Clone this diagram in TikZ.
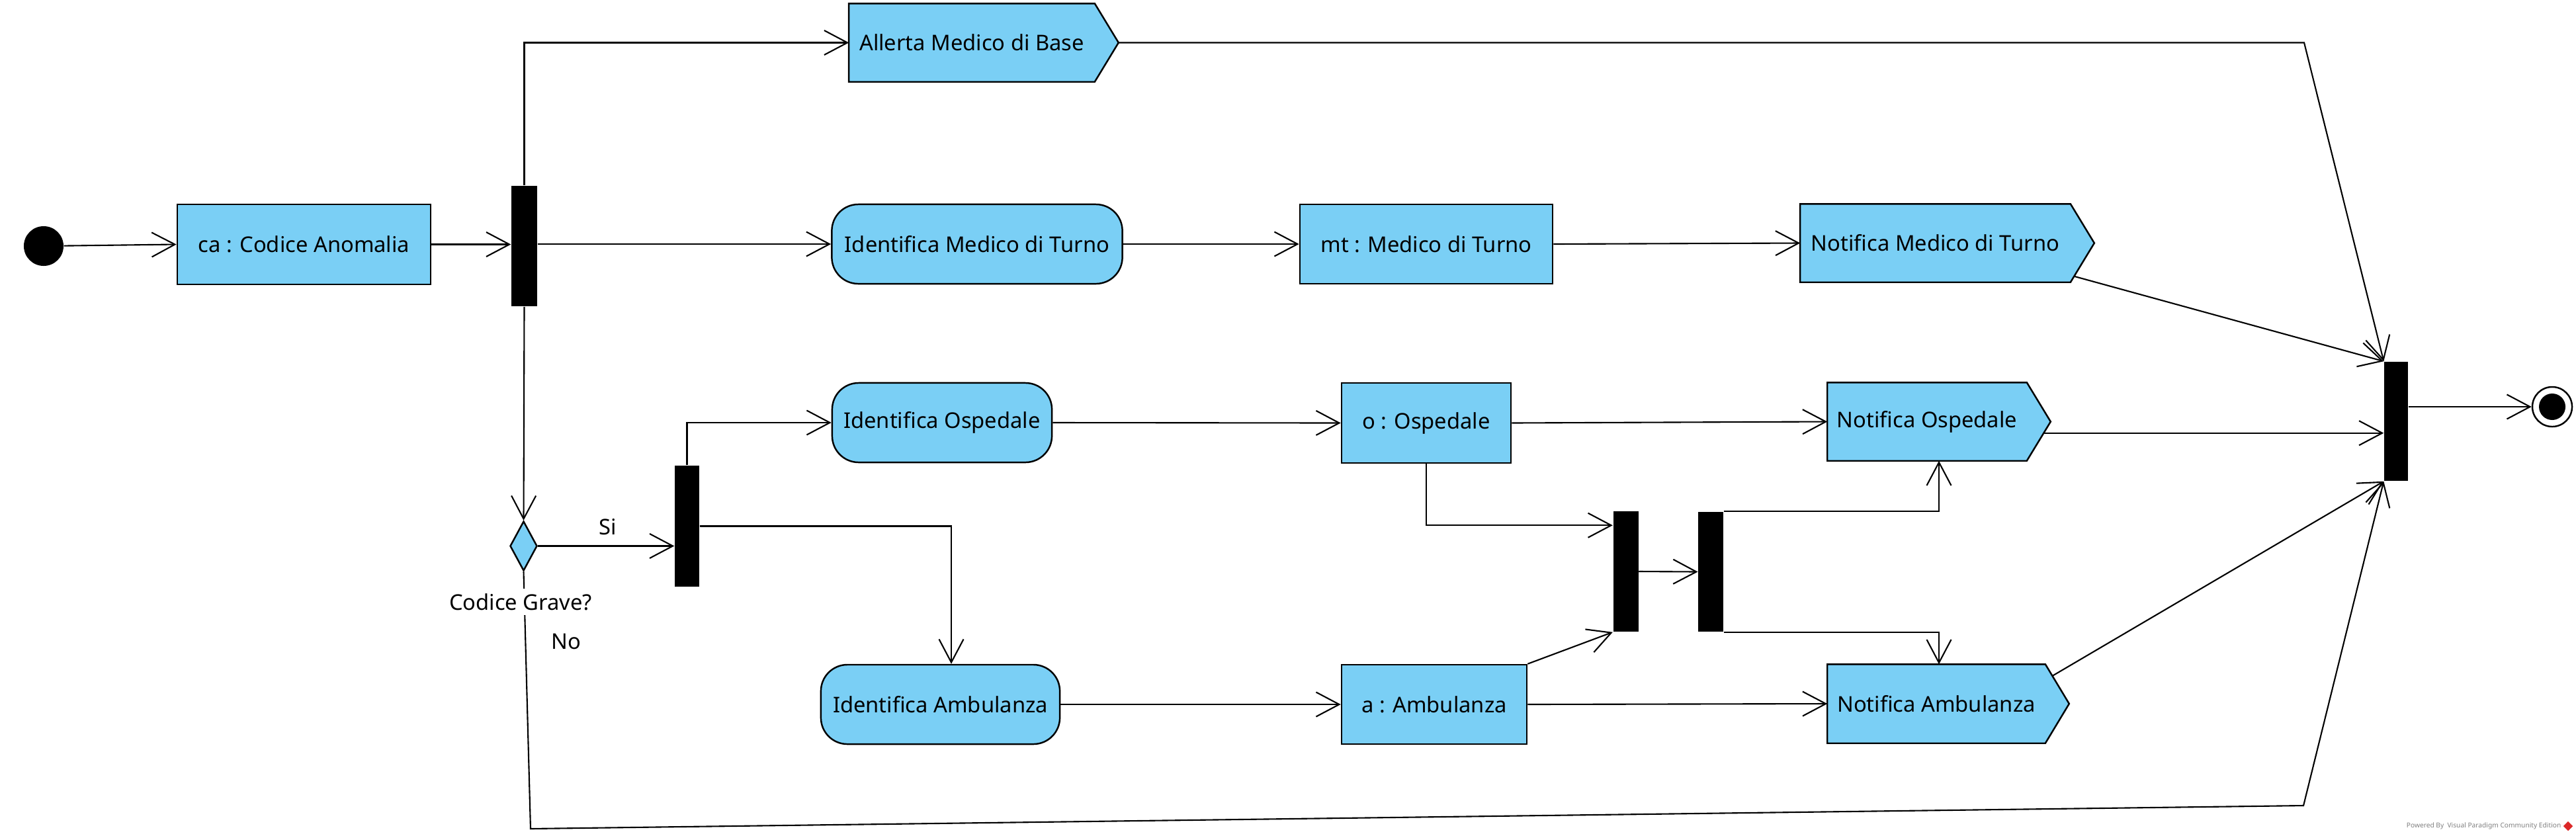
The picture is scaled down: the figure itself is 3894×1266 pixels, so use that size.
\documentclass[tikz,border=0pt]{standalone}
\usepackage{fontspec}
\setmainfont{Noto Sans}
\usetikzlibrary{arrows.meta,calc,shapes.geometric}
\pgfdeclarelayer{background}
\pgfsetlayers{background,main}
\definecolor{vpblue}{RGB}{122,207,245}
\definecolor{vpred}{RGB}{220,40,40}
\begin{document}
\begin{tikzpicture}[x=0.01cm,y=-0.01cm,
  font=\fontsize{9.3}{11}\selectfont,
  box/.style={draw, line width=0.7pt, fill=vpblue, inner sep=0, minimum height=1.2cm},
  act/.style={box, rounded corners=0.4cm},
  sigbox/.style={inner sep=0, minimum height=1.17cm},
  sigshape/.style={draw, line width=0.7pt, fill=vpblue, line join=miter},
  bar/.style={fill=black, inner sep=0, minimum width=0.38cm, minimum height=1.82cm},
  arr/.style={line width=0.6pt, -{Straight Barb[length=0.35cm, width=0.37cm]}},
]
\useasboundingbox (0,0) rectangle (3894,1266);

% nodes
\node[circle, fill=black, inner sep=0, minimum size=0.6cm] (init) at (66,372) {};
\node[box, minimum width=3.83cm, minimum height=1.21cm] (ca) at (459.5,369.5) {ca : Codice Anomalia};
\node[bar, minimum width=0.39cm] (fork1) at (792.5,372) {};
\node[sigbox, minimum width=3.70cm] (allerta) at (1469,64.5) {Allerta Medico di Base};
\node[act, minimum width=4.39cm] (idmt) at (1477,369) {Identifica Medico di Turno};
\node[box, minimum width=3.82cm] (mt) at (2156,369) {mt : Medico di Turno};
\node[sigbox, minimum width=4.07cm] (nmt) at (2925.5,367.5) {Notifica Medico di Turno};
\node[diamond, draw, fill=vpblue, line width=0.7pt, inner sep=0, minimum width=0.41cm, minimum height=0.75cm] (dec) at (791.5,825.5) {};
\node[bar, minimum width=0.37cm, minimum height=1.83cm] (fork2) at (1038.5,795.5) {};
\node[act, minimum width=3.32cm] (idosp) at (1424,639) {Identifica Ospedale};
\node[box, minimum width=2.56cm, minimum height=1.21cm] (osp) at (2156,639.5) {o : Ospedale};
\node[act, minimum width=3.61cm] (idamb) at (1421.5,1065) {Identifica Ambulanza};
\node[box, minimum width=2.80cm] (amb) at (2168,1065) {a : Ambulanza};
\node[bar] (join3) at (2457.5,864) {};
\node[bar, minimum width=0.375cm, minimum height=1.81cm] (fork4) at (2586,864.5) {};
\node[sigbox, minimum width=3.00cm] (nosp) at (2913,637.5) {Notifica Ospedale};
\node[sigbox, minimum width=3.28cm, minimum height=1.18cm] (namb) at (2927,1064) {Notifica Ambulanza};
\node[bar, minimum width=0.36cm, minimum height=1.80cm] (fjoin) at (3622,637) {};
\node[circle, draw, line width=0.7pt, inner sep=0, minimum size=0.6cm] (final) at (3858,615) {};
\node[circle, fill=black, inner sep=0, minimum size=0.4cm] (finaldot) at (final.center) {};

% signal shapes
\begin{pgfonlayer}{background}
\foreach \nn in {allerta,nmt,nosp,namb}{
  \draw[sigshape] (\nn.north west) -- (\nn.north east) -- ($(\nn.east)+(36,0)$) -- (\nn.south east) -- (\nn.south west) -- cycle;
}
\end{pgfonlayer}

% connectors
\draw[arr] (init) -- (ca.west);
\draw[arr] (ca.east) -- (ca.east -| fork1.west);
\draw[arr] (fork1.north) |- (allerta.west);
\draw[arr] (fork1.east |- idmt.west) -- (idmt.west);
\draw[arr] (idmt.east) -- (mt.west);
\draw[arr] (mt.east) -- (nmt.west);
\coordinate (allertatip) at ($(allerta.east)+(36,0)$);
\coordinate (bendA) at (3483,66);
\draw[arr] (allertatip) -- (bendA |- allertatip) -- (fjoin.north west);
\coordinate (nmtout) at ($(nmt.south east)+(5.5,-9)$);
\draw[arr] (nmtout) -- (fjoin.north west);
\draw[arr] (fork1.south) -- (dec.north);
\draw[arr] (dec.east) -- (dec.east -| fork2.west);
\draw[arr] (fork2.north) |- (idosp.west);
\draw[arr] (fork2.east) -| ($(idamb.north)+(16.5,0)$);
\draw[arr] (idosp.east) -- (osp.west);
\draw[arr] (osp.east) -- (nosp.west);
\draw[arr] (osp.south) |- ($(join3.north west)+(0,22)$);
\draw[arr] (idamb.east) -- (amb.west);
\draw[arr] (amb.north east) -- (join3.south west);
\draw[arr] (amb.east) -- (namb.west);
\draw[arr] (join3.east) -- (fork4.west);
\draw[arr] (fork4.north east) -| ($(nosp.south)+(18,0)$);
\draw[arr] (fork4.south east) -| ($(namb.north)+(4,0)$);
\coordinate (nospout) at ($(nosp.south east)+(26,-42)$);
\draw[arr] (nospout) -- (nospout -| fjoin.west);
\coordinate (nambout) at ($(namb.north east)+(10.7,17.6)$);
\draw[arr] (nambout) -- (fjoin.south west);
\coordinate (bendN1) at (802,1253);
\coordinate (bendN2) at (3482,1218);
\draw[arr] (dec.south) -- (bendN1) -- (bendN2) -- (fjoin.south west);
\draw[arr] (fjoin.east |- final.west) -- (final.west);

% labels
\node[fill=white, inner sep=2pt] (lblcg) at (787,910) {Codice Grave?};
\node (lblsi) at (919,797) {Si};
\node (lblno) at (856,970) {No};

% watermark
\node[text=gray, font=\fontsize{2.9}{3}\selectfont, anchor=east, inner sep=0] (wm) at (3872,1249) {Powered By\ \ Visual Paradigm Community Edition};
\node[diamond, fill=vpred, inner sep=0, minimum size=0.15cm] (wmlogo) at (3882,1249) {};
\end{tikzpicture}
\end{document}
